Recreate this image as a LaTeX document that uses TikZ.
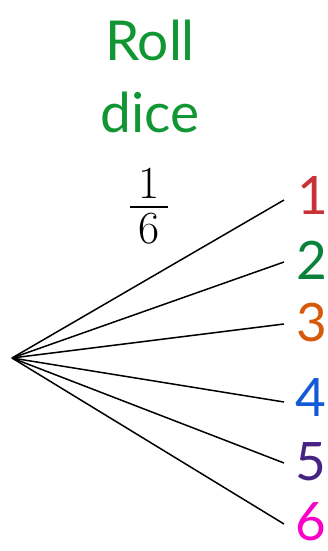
\documentclass[tikz,border=0pt]{standalone}
\usepackage{xcolor}
\usepackage{tikz}
\usepackage{fontspec}
\setmainfont{Lato}
\newfontfamily\lmchiffres{Latin Modern Roman}
\definecolor{rollgreen}{RGB}{16, 150, 50}
\definecolor{onered}{RGB}{200, 50, 55}
\definecolor{twogreen}{RGB}{10, 130, 60}
\definecolor{threeorange}{RGB}{215, 90, 10}
\definecolor{fourblue}{RGB}{20, 90, 215}
\definecolor{fivepurple}{RGB}{70, 35, 130}
\definecolor{sixpink}{RGB}{250, 0, 200}

\begin{document}
\begin{tikzpicture}[
    x=1pt, y=-1pt,
    titre/.style={inner sep=0pt, anchor=base, text=rollgreen,
                  font=\fontsize{55}{72}\selectfont},
    fraction/.style={inner sep=0pt, font=\lmchiffres\fontsize{46}{50}\selectfont},
    issue/.style={inner sep=0pt, font=\fontsize{53}{60}\selectfont},
    branche/.style={line width=1.5pt, black}
]
    \useasboundingbox (0,0) rectangle (328,551);

    % Titre
    \node[titre] (roll) at (150,60) {Roll};
    \node[titre] (dice) at (150,132) {dice};

    % Probabilité 1/6
    \node[fraction] (num) at (149,183) {1};
    \node[fraction] (den) at (149,229) {6};
    \coordinate (barreg) at (130,207);
    \coordinate (barred) at (168,207);
    \draw[line width=1.5pt] (barreg) -- (barred);

    % Racine et extrémités
    \coordinate (racine) at (12,358);
    \coordinate (e1) at (284,200);
    \coordinate (e2) at (284,262);
    \coordinate (e3) at (284,324);
    \coordinate (e4) at (284,402);
    \coordinate (e5) at (284,463);
    \coordinate (e6) at (284,524);

    % Issues
    \node[issue, text=onered] (un) at (313,195) {1};
    \node[issue, text=twogreen] (deux) at (312,260) {2};
    \node[issue, text=threeorange] (trois) at (312,323) {3};
    \node[issue, text=fourblue] (quatre) at (311,398) {4};
    \node[issue, text=fivepurple] (cinq) at (311,462) {5};
    \node[issue, text=sixpink] (six) at (311,522) {6};

    % Branches
    \draw[branche] (racine) -- (e1);
    \draw[branche] (racine) -- (e2);
    \draw[branche] (racine) -- (e3);
    \draw[branche] (racine) -- (e4);
    \draw[branche] (racine) -- (e5);
    \draw[branche] (racine) -- (e6);
\end{tikzpicture}
\end{document}
